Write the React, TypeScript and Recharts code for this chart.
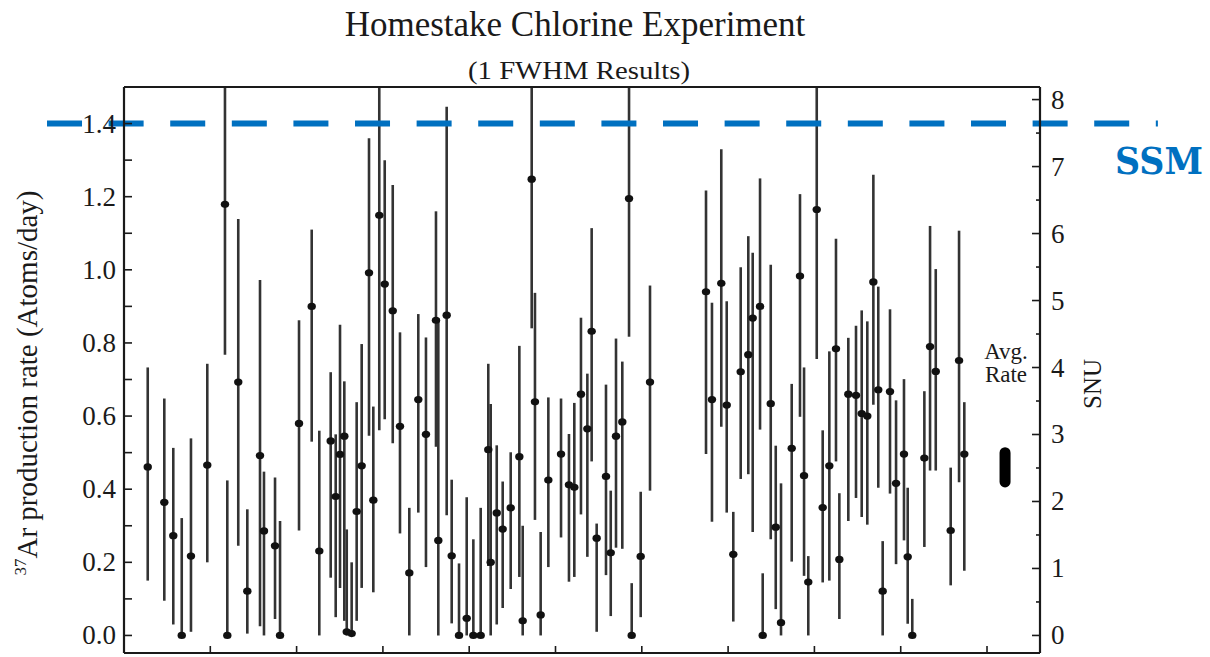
import React from 'react';
import { ScatterChart, Scatter, XAxis, YAxis, ErrorBar, ReferenceLine } from 'recharts';

// Run time position (axis tick units; axis ticks at 1..10, labels not shown in the source)
const runPosition = [
  0.275, 0.467, 0.571, 0.669, 0.776, 0.965, 1.170, 1.197, 1.324, 1.429,
  1.576, 1.622, 1.750, 1.808, 2.028, 2.175, 2.263, 2.395, 2.453, 2.503,
  2.553, 2.581, 2.638, 2.696, 2.754, 2.839, 2.889, 2.958, 3.021, 3.114,
  3.198, 3.306, 3.410, 3.499, 3.615, 3.642, 3.739, 3.797, 3.882, 3.971,
  4.048, 4.133, 4.221, 4.249, 4.319, 4.388, 4.481, 4.581, 4.620, 4.724,
  4.762, 4.828, 4.917, 5.064, 5.156, 5.218, 5.295, 5.369, 5.419, 5.477,
  5.585, 5.640, 5.701, 5.774, 5.852, 5.883, 5.987, 6.095, 6.744, 6.813,
  6.921, 6.984, 7.060, 7.146, 7.234, 7.285, 7.370, 7.401, 7.494, 7.552,
  7.613, 7.737, 7.833, 7.880, 7.929, 8.027, 8.096, 8.173, 8.250, 8.289,
  8.393, 8.482, 8.548, 8.613, 8.683, 8.740, 8.791, 8.876, 8.946, 9.038,
  9.081, 9.134, 9.274, 9.340, 9.406, 9.579, 9.676, 9.737,
];

// 37Ar production rate (atoms/day)
const productionRate = [
  0.461, 0.364, 0.273, 0.000, 0.217, 0.466, 1.179, 0.000, 0.693, 0.121,
  0.492, 0.286, 0.245, 0.000, 0.580, 0.900, 0.231, 0.532, 0.380, 0.495,
  0.545, 0.010, 0.005, 0.339, 0.464, 0.992, 0.370, 1.149, 0.961, 0.888,
  0.572, 0.171, 0.645, 0.550, 0.862, 0.260, 0.876, 0.218, 0.000, 0.047,
  0.000, 0.000, 0.508, 0.200, 0.335, 0.291, 0.349, 0.489, 0.040, 1.248,
  0.639, 0.056, 0.425, 0.496, 0.412, 0.405, 0.660, 0.565, 0.832, 0.266,
  0.435, 0.226, 0.545, 0.584, 1.195, 0.000, 0.216, 0.693, 0.940, 0.645,
  0.963, 0.630, 0.222, 0.721, 0.768, 0.868, 0.900, 0.000, 0.634, 0.296,
  0.035, 0.512, 0.983, 0.437, 0.146, 1.165, 0.350, 0.464, 0.784, 0.208,
  0.660, 0.657, 0.607, 0.600, 0.967, 0.672, 0.121, 0.667, 0.416, 0.496,
  0.215, 0.000, 0.485, 0.790, 0.722, 0.287, 0.752, 0.496,
];

// Lower end of the 1 FWHM interval
const rateLow = [
  0.150, 0.095, 0.030, 0.000, 0.010, 0.200, 0.768, 0.000, 0.245, 0.005,
  0.025, 0.000, 0.045, 0.000, 0.287, 0.530, 0.000, 0.158, 0.050, 0.130,
  0.040, 0.000, 0.000, 0.040, 0.130, 0.546, 0.118, 0.561, 0.591, 0.526,
  0.279, 0.000, 0.336, 0.187, 0.516, 0.000, 0.329, 0.033, 0.000, 0.000,
  0.000, 0.000, 0.190, 0.000, 0.030, 0.075, 0.127, 0.160, 0.000, 0.840,
  0.316, 0.000, 0.187, 0.268, 0.147, 0.160, 0.331, 0.215, 0.476, 0.010,
  0.165, 0.053, 0.240, 0.237, 0.817, 0.000, 0.050, 0.396, 0.496, 0.311,
  0.571, 0.336, 0.038, 0.428, 0.441, 0.283, 0.563, 0.000, 0.263, 0.072,
  0.000, 0.202, 0.598, 0.163, 0.000, 0.756, 0.145, 0.150, 0.476, 0.045,
  0.313, 0.376, 0.324, 0.303, 0.631, 0.404, 0.000, 0.388, 0.195, 0.260,
  0.032, 0.000, 0.242, 0.451, 0.451, 0.137, 0.419, 0.177,
];

// Upper end of the 1 FWHM interval (1.5 = runs off the top of the frame)
const rateHigh = [
  0.733, 0.648, 0.513, 0.321, 0.539, 0.743, 1.500, 0.424, 1.139, 0.345,
  0.972, 0.448, 0.432, 0.313, 0.862, 1.110, 0.560, 0.720, 0.550, 0.850,
  0.695, 0.290, 0.200, 0.638, 0.797, 1.360, 0.626, 1.500, 1.300, 1.232,
  0.829, 0.349, 0.879, 0.815, 1.160, 0.867, 1.446, 0.426, 0.197, 0.378,
  0.263, 0.349, 0.743, 0.633, 0.520, 0.421, 0.501, 0.792, 0.300, 1.500,
  0.937, 0.283, 0.651, 0.648, 0.551, 0.636, 0.869, 0.716, 1.114, 0.306,
  0.686, 0.396, 0.812, 0.749, 1.500, 0.143, 0.393, 0.957, 1.217, 0.910,
  1.330, 0.914, 0.338, 1.007, 1.092, 1.047, 1.250, 0.170, 1.014, 0.519,
  0.416, 0.688, 1.207, 0.733, 0.217, 1.500, 0.561, 0.777, 1.085, 0.389,
  0.814, 0.847, 0.889, 0.859, 1.260, 0.954, 0.258, 0.892, 0.643, 0.701,
  0.404, 0.100, 0.668, 1.120, 1.002, 0.459, 1.107, 0.638,
];

const avgRatePosition = 10.209;
const avgRate = 0.46;
const avgRateError = 0.04;

const ssmRate = 1.4;
const ssmLineStart = -0.892;
const ssmLineEnd = 11.98;

const atomsPerDayPerSnu = 0.1832;
const rateDomain = [-0.048, 1.5];
const snuDomain = [rateDomain[0] / atomsPerDayPerSnu, rateDomain[1] / atomsPerDayPerSnu];
const timeDomain = [0, 10.614];
const timeTicks = [1, 2, 3, 4, 5, 6, 7, 8, 9, 10];
const rateTicks = [0, 0.1, 0.2, 0.3, 0.4, 0.5, 0.6, 0.7, 0.8, 0.9, 1.0, 1.1, 1.2, 1.3, 1.4];
const snuTicks = [0, 0.5, 1, 1.5, 2, 2.5, 3, 3.5, 4, 4.5, 5, 5.5, 6, 6.5, 7, 7.5, 8];

const table = runPosition.map((x, i) => ({
  x,
  rate: productionRate[i],
  err: [productionRate[i] - rateLow[i], rateHigh[i] - productionRate[i]],
}));

const INK = '#1a1a1a';
const SERIF = "'Liberation Serif', 'Times New Roman', serif";
const BLUE = '#0070C0';

const LeftTick = (props: any) => {
  const { x, y, payload } = props;
  const v = payload.value as number;
  const major = Math.round(v * 10) % 2 === 0;
  return (
    <g>
      <line x1={x} x2={x + 8} y1={y} y2={y} stroke={INK} strokeWidth={1.6} />
      {major && (
        <text x={x - 8} y={y} dy={9} textAnchor="end" fontSize={27} fontFamily={SERIF} fill={INK}>
          {v.toFixed(1)}
        </text>
      )}
    </g>
  );
};

const RightTick = (props: any) => {
  const { x, y, payload } = props;
  const v = payload.value as number;
  const major = Math.abs(v - Math.round(v)) < 1e-6;
  return (
    <g>
      <line x1={x - (major ? 8 : 4)} x2={x} y1={y} y2={y} stroke={INK} strokeWidth={1.6} />
      {major && (
        <text x={x + 11} y={y} dy={9} textAnchor="start" fontSize={27} fontFamily={SERIF} fill={INK}>
          {String(v)}
        </text>
      )}
    </g>
  );
};

const BottomTick = (props: any) => {
  const { x, y } = props;
  return <line x1={x} x2={x} y1={y} y2={y - 7} stroke={INK} strokeWidth={1.6} />;
};

const TopTick = (props: any) => {
  const { x, y } = props;
  return <line x1={x} x2={x} y1={y} y2={y + 7} stroke={INK} strokeWidth={1.6} />;
};

const Dot = (props: any) => {
  const { cx, cy } = props;
  if (cx == null || cy == null) return <g />;
  return <ellipse cx={cx} cy={cy} rx={4.2} ry={3.6} fill="#111" />;
};

export default function App() {
  return (
    <div style={{ position: 'absolute', left: 0, top: 0, width: 1210, height: 657, background: '#fff' }}>
      <ScatterChart width={1210} height={657} margin={{ top: 86, right: 169, bottom: 3, left: 123 }}>
        <XAxis
          xAxisId="b"
          dataKey="x"
          type="number"
          domain={timeDomain}
          allowDataOverflow
          ticks={timeTicks}
          interval={0}
          orientation="bottom"
          height={1}
          tickSize={0}
          tickMargin={0}
          tickLine={false}
          axisLine={{ stroke: INK, strokeWidth: 2.2 }}
          tick={(p: any) => <BottomTick {...p} />}
        />
        <XAxis
          xAxisId="t"
          type="number"
          domain={timeDomain}
          allowDataOverflow
          ticks={timeTicks}
          interval={0}
          orientation="top"
          height={1}
          tickSize={0}
          tickMargin={0}
          tickLine={false}
          axisLine={{ stroke: INK, strokeWidth: 2.2 }}
          tick={(p: any) => <TopTick {...p} />}
        />
        <YAxis
          yAxisId="l"
          dataKey="rate"
          type="number"
          domain={rateDomain}
          allowDataOverflow
          ticks={rateTicks}
          interval={0}
          orientation="left"
          width={1}
          tickSize={0}
          tickMargin={0}
          tickLine={false}
          axisLine={{ stroke: INK, strokeWidth: 2.2 }}
          tick={(p: any) => <LeftTick {...p} />}
        />
        <YAxis
          yAxisId="r"
          type="number"
          domain={snuDomain}
          allowDataOverflow
          ticks={snuTicks}
          interval={0}
          orientation="right"
          width={1}
          tickSize={0}
          tickMargin={0}
          tickLine={false}
          axisLine={{ stroke: INK, strokeWidth: 2.2 }}
          tick={(p: any) => <RightTick {...p} />}
        />
        <Scatter
          data={table}
          xAxisId="b"
          yAxisId="l"
          dataKey="rate"
          shape={Dot}
          isAnimationActive={false}
        >
          <ErrorBar dataKey="err" direction="y" width={0} stroke="#333" strokeWidth={2.6} />
        </Scatter>
        <ReferenceLine
          xAxisId="b"
          yAxisId="l"
          segment={[
            { x: avgRatePosition, y: avgRate - avgRateError },
            { x: avgRatePosition, y: avgRate + avgRateError },
          ]}
          stroke="#000"
          strokeWidth={11}
          strokeLinecap="round"
          ifOverflow="visible"
        />
        <ReferenceLine
          xAxisId="b"
          yAxisId="l"
          segment={[
            { x: ssmLineStart, y: ssmRate },
            { x: ssmLineEnd, y: ssmRate },
          ]}
          stroke={BLUE}
          strokeWidth={6}
          strokeDasharray="35 26.6"
          ifOverflow="visible"
        />
      </ScatterChart>
      <svg
        width={1210}
        height={657}
        style={{ position: 'absolute', left: 0, top: 0, pointerEvents: 'none' }}
      >
        <text x={575} y={36} textAnchor="middle" fontSize={35} fontFamily={SERIF} fill={INK}>
          Homestake Chlorine Experiment
        </text>
        <text x={579} y={79} textAnchor="middle" fontSize={26} fontFamily={SERIF} fill={INK} textLength={222} lengthAdjust="spacingAndGlyphs">
          (1 FWHM Results)
        </text>
        <text transform="translate(37,383) rotate(-90)" textAnchor="middle" fontSize={29} fontFamily={SERIF} fill={INK}>
          <tspan fontSize={17} dy={-11}>37</tspan>
          <tspan dy={11}>Ar production rate (Atoms/day)</tspan>
        </text>
        <text transform="translate(1101,384) rotate(-90)" textAnchor="middle" fontSize={25} fontFamily={SERIF} fill={INK}>
          SNU
        </text>
        <text x={1006} y={359} textAnchor="middle" fontSize={23} fontFamily={SERIF} fill={INK}>
          Avg.
        </text>
        <text x={1006} y={382} textAnchor="middle" fontSize={23} fontFamily={SERIF} fill={INK}>
          Rate
        </text>
        <text x={1115} y={174} textAnchor="start" fontSize={37} fontWeight="bold" fontFamily="'DejaVu Serif', serif" fill={BLUE} textLength={88} lengthAdjust="spacingAndGlyphs">
          SSM
        </text>
      </svg>
    </div>
  );
}
